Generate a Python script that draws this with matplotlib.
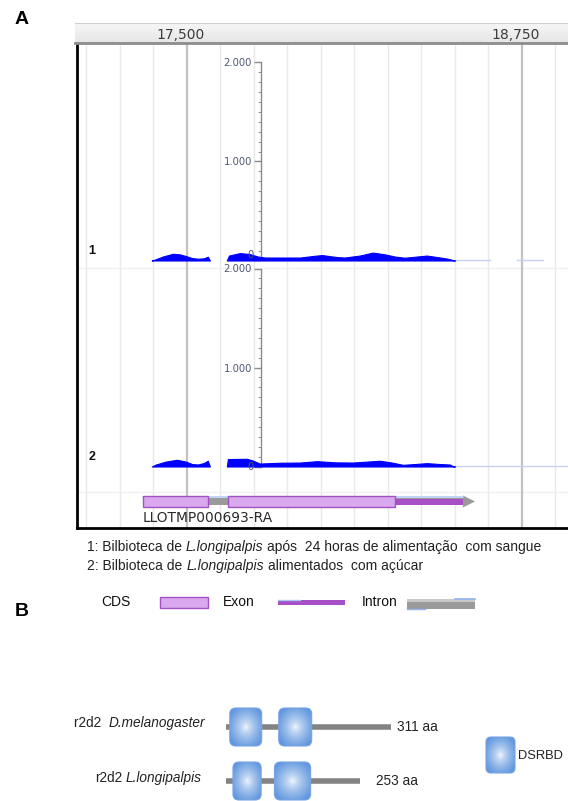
import numpy as np
import matplotlib
matplotlib.use("Agg")
import matplotlib.pyplot as plt
from matplotlib.patches import Rectangle, FancyBboxPatch, Polygon
from matplotlib.ticker import FixedLocator, FuncFormatter
from matplotlib.transforms import offset_copy

plt.rcParams['font.family'] = ['Liberation Sans', 'DejaVu Sans']

# ---------------- data ----------------
ruler_ticks = [17500, 18750]
ruler_labels = ["17,500", "18,750"]
view_start, view_end = 17090, 18922
grid_step = 125

cov_ticks = [0, 1000, 2000]
cov_minor = list(range(0, 2001, 100))

# library 1 (blood fed), two covered blocks
cov1_pos_a = [17369, 17381, 17410, 17448, 17474, 17496, 17519, 17541, 17563, 17578, 17586]
cov1_val_a = [0, 10, 40, 68, 62, 45, 25, 18, 22, 38, 0]
cov1_pos_b = [17649, 17657, 17698, 17735, 17765, 17791, 17847, 17922, 17978, 18005,
              18030, 18060, 18089, 18145, 18194, 18239, 18276, 18313, 18351, 18395,
              18433, 18470, 18492, 18500]
cov1_val_b = [0, 50, 75, 65, 40, 30, 30, 30, 48, 55, 45, 35, 30, 50, 80, 62, 40,
              28, 38, 50, 35, 20, 5, 0]
cov1_tails = [(18500, 18630), (18731, 18828)]

# library 2 (sugar fed)
cov2_pos_a = [17369, 17384, 17422, 17463, 17496, 17519, 17541, 17563, 17578, 17586]
cov2_val_a = [0, 20, 50, 68, 50, 25, 20, 35, 58, 0]
cov2_pos_b = [17649, 17653, 17724, 17746, 17772, 17847, 17922, 17985, 18052, 18119,
              18175, 18220, 18265, 18306, 18351, 18395, 18444, 18481, 18492, 18500]
cov2_val_b = [0, 75, 78, 60, 30, 38, 40, 54, 42, 40, 50, 58, 40, 17, 25, 34, 25,
              20, 5, 0]
cov2_tails = [(18500, 18921)]

# transcript LLOTMP000693-RA
gene_name = "LLOTMP000693-RA"
cds_blocks = [(17336, 17578), (17653, 18276)]
utr_blocks = [(18276, 18530)]
tx_start, tx_end, tx_tip = 17336, 18530, 18575

legend_lines = [
    [("1: Bilbioteca de", 'normal'), ("L.longipalpis", 'italic'),
     ("após  24 horas de alimentação  com sangue", 'normal')],
    [("2: Bilbioteca de", 'normal'), ("L.longipalpis", 'italic'),
     ("alimentados  com açúcar", 'normal')],
]

# protein domain architecture (aa)
proteins = [[("r2d2 ", 'normal'), ("D.melanogaster", 'italic')],
            [("r2d2", 'normal'), ("L.longipalpis", 'italic')]]
lengths = [311, 253]
domains = [[(8, 68), (100, 162)], [(14, 67), (92, 160)]]

# ---------------- layout ----------------
W, H, DPI = 568, 801, 100
fig = plt.figure(figsize=(W / DPI, H / DPI), dpi=DPI)
renderer = fig.canvas.get_renderer()


def rect(x0, y0, x1, y1):
    return [x0 / W, 1 - y1 / H, (x1 - x0) / W, (y1 - y0) / H]


def rich_text(ax, x, y, parts, ha='left', **kw):
    """Lay out text runs of different styles one after another, joined by a space."""
    probe = ax.text(0, 0, "x x", **kw)
    probe2 = ax.text(0, 0, "xx", **kw)
    space = probe.get_window_extent(renderer).width - probe2.get_window_extent(renderer).width
    probe.remove()
    probe2.remove()
    texts = [ax.text(x, y, s, style=st, ha='left', **kw) for s, st in parts]
    widths = [t.get_window_extent(renderer).width for t in texts]
    total = sum(widths) + space * (len(texts) - 1)
    start = -total if ha == 'right' else 0.0
    acc = start
    for t, w in zip(texts, widths):
        t.set_transform(offset_copy(ax.transData, fig=fig, x=acc, y=0, units='dots'))
        acc += w + space
    return texts


def gradient_box(ax, x0, x1, yc, h, rx, aspect=1.0):
    """Rounded square with a radial blue highlight."""
    n = 64
    gx, gy = np.meshgrid(np.linspace(-1, 1, n), np.linspace(-1, 1, n))
    r = np.clip(np.sqrt(gx ** 2 + gy ** 2) / 1.2, 0, 1) ** 0.7
    c0 = np.array([0.97, 0.985, 1.0])
    c1 = np.array([0.38, 0.59, 0.87])
    img = c0[None, None, :] * (1 - r[..., None]) + c1[None, None, :] * r[..., None]
    y0 = yc - h / 2
    patch = FancyBboxPatch((x0, y0), x1 - x0, h,
                           boxstyle=f"round,pad=0,rounding_size={rx}",
                           mutation_aspect=aspect, fc='none',
                           ec='#77a5e3', lw=0.8, zorder=4)
    ax.add_patch(patch)
    im = ax.imshow(img, extent=[x0, x1, y0 + h, y0], aspect='auto',
                   interpolation='bilinear', zorder=3)
    im.set_clip_path(patch)


# browser frame + grid + gene model (y in screen rows)
bg = fig.add_axes(rect(77, 44, 568, 528))
bg.set_xlim(view_start, view_end)
bg.set_ylim(528, 44)
bg.set_xticks([])
bg.set_yticks([])
for s in ('top', 'right'):
    bg.spines[s].set_visible(False)
for s in ('left', 'bottom'):
    bg.spines[s].set_linewidth(2)
    bg.spines[s].set_color('black')
first = int(np.ceil(view_start / grid_step) * grid_step)
for g in range(first, view_end, grid_step):
    if g not in ruler_ticks:
        bg.axvline(g, color='#e9e9e9', lw=1, zorder=0)
for g in ruler_ticks:
    bg.axvline(g, color='#c2c2c2', lw=1.6, zorder=0.5)
bg.axhline(268, color='#f0f0f0', lw=1, zorder=0.2)
bg.axhline(492, color='#f0f0f0', lw=1, zorder=0.2)

# transcript glyph
bg.add_patch(Rectangle((tx_start, 498), tx_end - tx_start, 6.5, fc='#9a9a9a', ec='none', zorder=2))
bg.plot([tx_start, tx_end], [497, 497], color='#b4cdf3', lw=1.2, zorder=2.1)
bg.add_patch(Polygon([(tx_end, 495.5), (tx_tip, 501.5), (tx_end, 507.5)], closed=True,
                     fc='#9a9a9a', ec='none', zorder=2))
for s, e in utr_blocks:
    bg.add_patch(Rectangle((s, 499), e - s, 6, fc='#a64fc6', ec='none', zorder=3))
for s, e in cds_blocks:
    bg.add_patch(Rectangle((s, 496), e - s, 10.5, fc='#d9a8ef', ec='#a352c4', lw=1, zorder=4))
bg.text(tx_start, 510.5, gene_name, ha='left', va='top', fontsize=9.9,
        family='DejaVu Sans', color='#2a2a2a')


def coverage_track(y0, y1, base_px, pos_a, val_a, pos_b, val_b, tails, label, zero_up):
    ax = fig.add_axes(rect(77, y0, 568, y1))
    ax.patch.set_alpha(0)
    upp = 2000 / 198.0
    ax.set_xlim(view_start, view_end)
    ax.set_ylim(-(y1 - base_px) * upp, (base_px - y0) * upp)
    for p, v in ((pos_a, val_a), (pos_b, val_b)):
        ax.fill_between(p, 0, v, color='#0000ff', lw=0.8, zorder=3)
    for s, e in tails:
        ax.plot([s, e], [6, 6], color='#c8d0f6', lw=1, zorder=2)
    for s in ('top', 'right', 'bottom'):
        ax.spines[s].set_visible(False)
    axis_frac = (261 - 77) / 491
    ax.spines['left'].set_position(('axes', axis_frac))
    ax.spines['left'].set_bounds(0, 2000)
    ax.spines['left'].set_color('#8a8a8a')
    ax.spines['left'].set_linewidth(1)
    ax.set_xticks([])
    ax.yaxis.set_major_locator(FixedLocator(cov_ticks))
    ax.yaxis.set_minor_locator(FixedLocator(cov_minor))
    ax.yaxis.set_major_formatter(
        FuncFormatter(lambda v, _: "" if v == 0 else f"{int(v):,}".replace(",", ".")))
    ax.tick_params(axis='y', which='major', length=5, width=1, color='#8a8a8a',
                   labelsize=7.2, labelcolor='#4e5870', pad=1.5)
    ax.tick_params(axis='y', which='minor', length=2.5, width=0.8, color='#9a9a9a')
    for t in ax.get_yticklabels():
        t.set_family('DejaVu Sans')
    # zero label drawn on its own so it can sit just above the baseline
    ztr = offset_copy(ax.get_yaxis_transform(), fig=fig, x=-7, y=zero_up, units='dots')
    ax.text(axis_frac, 0, "0", transform=ztr, ha='right', va='center', fontsize=7.2,
            family='DejaVu Sans', color='#4e5870')
    fig.text(92 / W, 1 - (base_px - 9) / H, label, ha='center', va='center',
             fontsize=9, fontweight='bold', color='#111111')
    return ax


coverage_track(45, 265, 260.5, cov1_pos_a, cov1_val_a, cov1_pos_b, cov1_val_b, cov1_tails, "1", 5)
coverage_track(265, 478, 466.5, cov2_pos_a, cov2_val_a, cov2_pos_b, cov2_val_b, cov2_tails, "2", 0)

# position ruler
rl = fig.add_axes(rect(75, 23, 568, 43))
grad = np.linspace(0.965, 0.90, 32)[:, None] * np.ones((1, 2))
rl.imshow(grad, extent=[0, 1, 0, 1], transform=rl.transAxes, aspect='auto',
          cmap='gray', vmin=0, vmax=1, zorder=0)
rl.set_xlim(view_start - 2 * 3.73, view_end)
rl.set_ylim(0, 1)
rl.set_xticks([])
rl.set_yticks([])
for s in ('left', 'right'):
    rl.spines[s].set_visible(False)
rl.spines['top'].set_color('#d0d0d0')
rl.spines['bottom'].set_color('#8c8c8c')
rl.spines['bottom'].set_linewidth(2)
for g, lab in zip(ruler_ticks, ruler_labels):
    tr = offset_copy(rl.transData, fig=fig, x=-6, y=0, units='dots')
    rl.text(g, 0.42, lab, transform=tr, ha='center', va='center', fontsize=10,
            family='DejaVu Sans', color='#3c3c3c')

# overlay for panel letters and legends (screen coordinates)
ov = fig.add_axes([0, 0, 1, 1], zorder=5)
ov.set_xlim(0, W)
ov.set_ylim(H, 0)
ov.axis('off')
ov.text(22, 20, "A", ha='center', va='center', fontsize=14, fontweight='bold')
ov.text(22, 612, "B", ha='center', va='center', fontsize=14, fontweight='bold')

for i, parts in enumerate(legend_lines):
    rich_text(ov, 87, 551 + 19 * i, parts, va='baseline', fontsize=10, color='#222222')

ov.text(101, 606, "CDS", ha='left', va='baseline', fontsize=10, color='#111111')
ov.add_patch(Rectangle((160, 597), 48, 11, fc='#d9a8ef', ec='#a352c4', lw=1))
ov.text(223, 606, "Exon", ha='left', va='baseline', fontsize=10, color='#111111')
ov.add_patch(Rectangle((278, 600), 67, 5, fc='#a64fc6', ec='none'))
ov.plot([278, 300], [599.5, 599.5], color='#a9c6f2', lw=1)
ov.text(362, 606, "Intron", ha='left', va='baseline', fontsize=10, color='#111111')
ov.add_patch(Rectangle((407, 599), 68, 10, fc='#9a9a9a', ec='none'))
ov.add_patch(Rectangle((407, 599), 68, 3, fc='#c9c9c9', ec='none'))
ov.plot([455, 475], [598.5, 598.5], color='#8fb3ef', lw=1.2)
ov.plot([407, 425], [609, 609], color='#8fb3ef', lw=1)

# panel B: domain architecture
pb = fig.add_axes(rect(0, 620, 568, 801), zorder=6)
pb.patch.set_alpha(0)
scale = 0.532
x_origin = 225.5
pb.set_xlim(-x_origin / scale, (W - x_origin) / scale)
pb.set_ylim(801, 620)
pb.axis('off')
rows_y = [727, 781]
label_gap = [6, 16]
for L, doms, yc, gap in zip(lengths, domains, rows_y, label_gap):
    pb.plot([0, L], [yc, yc], color='#838383', lw=4, solid_capstyle='butt', zorder=2)
    for s, e in doms:
        gradient_box(pb, s, e, yc, 38, 6 / scale, aspect=scale)
    tr = offset_copy(pb.transData, fig=fig, x=gap, y=0, units='dots')
    pb.text(L, yc, f"{L} aa", transform=tr, ha='left', va='center', fontsize=9.8,
            color='#222222')
rich_text(ov, 205, 723, proteins[0], ha='right', va='center', fontsize=9.8, color='#222222')
rich_text(ov, 202, 778, proteins[1], ha='right', va='center', fontsize=9.8, color='#222222')

# legend for DSRBD
gradient_box(ov, 486, 515, 755, 36, 5)
ov.text(518, 756, "DSRBD", ha='left', va='center', fontsize=9.3, color='#222222')

fig.savefig("out.png", dpi=DPI)
